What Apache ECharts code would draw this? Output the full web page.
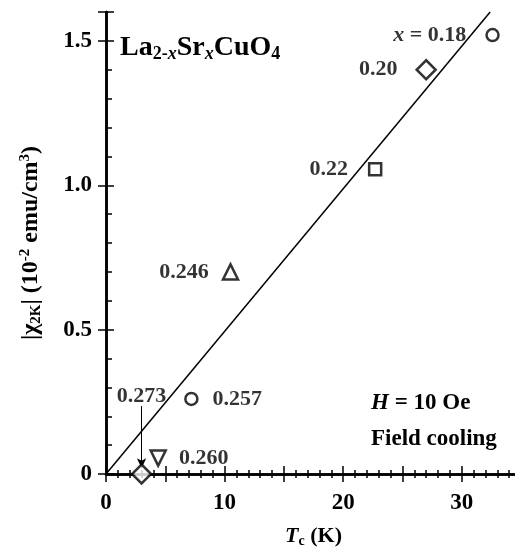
<!DOCTYPE html>
<html>
<head>
<meta charset="utf-8">
<script src="https://cdn.jsdelivr.net/npm/echarts@6/dist/echarts.min.js"></script>
<style>
  html, body { margin: 0; padding: 0; background: #fff; }
  #main { width: 515px; height: 552px; }
</style>
</head>
<body>
<div id="main"></div>
<script>
// 数据 (Tc in K, |chi_2K| in 1e-2 emu/cm3)
let samples = ["x = 0.18", "0.20", "0.22", "0.246", "0.257", "0.260", "0.273"];
let tcValues = [32.6, 27.0, 22.7, 10.5, 7.2, 4.4, 3.0];
let chiValues = [1.52, 1.40, 1.055, 0.70, 0.26, 0.055, 0.0];
let fitLine = [[0, 0], [32.4, 1.6]];
let xTicks = [0, 10, 20, 30];
let yTicks = [0, 0.5, 1.0, 1.5];

let font = "'Liberation Serif', 'Times New Roman', serif";
let chart = echarts.init(document.getElementById("main"));

// 每个点的样式
let markers = [
  { symbol: "circle", size: 12, rotate: 0, pos: "left", dist: 19 },
  { symbol: "diamond", size: 19, rotate: 0, pos: "left", dist: 18 },
  { symbol: "rect", size: 12, rotate: 0, pos: "left", dist: 20 },
  { symbol: "triangle", size: 15, rotate: 0, pos: "left", dist: 13 },
  { symbol: "circle", size: 12, rotate: 0, pos: "right", dist: 14 },
  { symbol: "triangle", size: 15, rotate: 180, pos: "right", dist: 12 },
  { symbol: "diamond", size: 19, rotate: 0, pos: "top", dist: 56 }
];

let labelRich = {
  i: { fontStyle: "italic", fontWeight: "bold", fontSize: 22, fontFamily: font, color: "#000" }
};

let pointSeries = samples.map((name, i) => {
  let m = markers[i];
  let text = i === 0 ? "{i|x} = 0.18" : name;
  return {
    name: name,
    type: "scatter",
    symbol: m.symbol,
    symbolSize: m.size,
    symbolRotate: m.rotate,
    z: 5,
    itemStyle: { color: "#fff", borderColor: "#000", borderWidth: 2.5 },
    label: {
      show: true,
      position: m.pos,
      distance: m.dist,
      formatter: text,
      fontFamily: font,
      fontWeight: "bold",
      fontSize: 22,
      color: "#000",
      rich: labelRich
    },
    data: [[tcValues[i], chiValues[i]]]
  };
});

let axisStyle = { lineStyle: { color: "#000", width: 2.5 } };
let tickStyle = { color: "#000", width: 1.5 };

let option = {
  animation: false,
  grid: { left: 106, top: 12, width: 415, bottom: 78, outerBoundsMode: "none", containLabel: false },
  xAxis: [{
    type: "value",
    min: 0,
    max: 35,
    interval: 5,
    name: "{i|T}{s|c} (K)",
    nameLocation: "middle",
    nameGap: 50,
    nameTextStyle: {
      fontFamily: font, fontWeight: "bold", fontSize: 22, color: "#000",
      rich: {
        i: { fontFamily: font, fontStyle: "italic", fontWeight: "bold", fontSize: 22, color: "#000" },
        s: { fontFamily: font, fontWeight: "bold", fontSize: 14, color: "#000", padding: [10, 0, 0, 0] }
      }
    },
    axisLine: axisStyle,
    axisTick: { inside: true, length: 8, lineStyle: tickStyle },
    minorTick: { show: true, splitNumber: 5, length: 4, lineStyle: tickStyle },
    splitLine: { show: false },
    axisLabel: {
      margin: 18,
      fontFamily: font, fontWeight: "bold", fontSize: 23, color: "#000",
      formatter: v => xTicks.indexOf(v) >= 0 ? String(v) : ""
    }
  }, {
    type: "value",
    position: "top",
    min: 0,
    max: 35,
    interval: 5,
    axisLine: axisStyle,
    axisTick: { inside: true, length: 8, lineStyle: tickStyle },
    minorTick: { show: true, splitNumber: 5, length: 4, lineStyle: tickStyle },
    splitLine: { show: false },
    axisLabel: { show: false }
  }],
  yAxis: [{
    type: "value",
    min: 0,
    max: 1.6,
    interval: 0.5,
    name: "|χ{s|2K}| (10{p|-2} emu/cm{p|3})",
    nameLocation: "middle",
    nameRotate: 90,
    nameGap: 62,
    nameTextStyle: {
      fontFamily: font, fontWeight: "bold", fontSize: 24, color: "#000",
      rich: {
        s: { fontFamily: font, fontWeight: "bold", fontSize: 15, color: "#000", padding: [11, 0, 0, 0] },
        p: { fontFamily: font, fontWeight: "bold", fontSize: 15, color: "#000", padding: [0, 0, 11, 0] }
      }
    },
    axisLine: axisStyle,
    axisTick: { inside: true, length: 8, lineStyle: tickStyle },
    minorTick: { show: true, splitNumber: 5, length: 6, lineStyle: tickStyle },
    splitLine: { show: false },
    axisLabel: {
      margin: 14,
      fontFamily: font, fontWeight: "bold", fontSize: 23, color: "#000",
      formatter: v => yTicks.indexOf(v) < 0 ? "" : (v === 0 ? "0" : v.toFixed(1))
    }
  }, {
    type: "value",
    position: "right",
    min: 0,
    max: 1.6,
    interval: 0.5,
    axisLine: axisStyle,
    axisTick: { inside: true, length: 8, lineStyle: tickStyle },
    splitLine: { show: false },
    axisLabel: { show: false }
  }],
  graphic: [{
    type: "text",
    left: 120,
    top: 34,
    style: {
      text: "La{s|2-}{si|x}Sr{si|x}CuO{s|4}",
      fontFamily: font, fontWeight: "bold", fontSize: 28, fill: "#000",
      rich: {
        s: { fontFamily: font, fontWeight: "bold", fontSize: 18, fill: "#000", padding: [13, 0, 0, 0] },
        si: { fontFamily: font, fontWeight: "bold", fontStyle: "italic", fontSize: 18, fill: "#000", padding: [13, 0, 0, 0] }
      }
    }
  }, {
    type: "text",
    left: 371,
    top: 392,
    style: {
      text: "{i|H} = 10 Oe",
      fontFamily: font, fontWeight: "bold", fontSize: 23, fill: "#000",
      rich: { i: { fontFamily: font, fontWeight: "bold", fontStyle: "italic", fontSize: 23, fill: "#000" } }
    }
  }, {
    type: "text",
    left: 371,
    top: 428,
    style: { text: "Field cooling", fontFamily: font, fontWeight: "bold", fontSize: 23, fill: "#000" }
  }],
  series: [{
    name: "fit",
    type: "line",
    data: fitLine,
    symbol: "none",
    z: 3,
    lineStyle: { color: "#000", width: 1.5 },
    markLine: {
      silent: true,
      symbol: ["none", "arrow"],
      symbolSize: [7, 10],
      label: { show: false },
      lineStyle: { color: "#000", width: 1, type: "solid" },
      data: [[{ coord: [tcValues[6], 0.235] }, { coord: [tcValues[6], 0.02] }]]
    }
  }].concat(pointSeries)
};

chart.setOption(option, true);
</script>
</body>
</html>
